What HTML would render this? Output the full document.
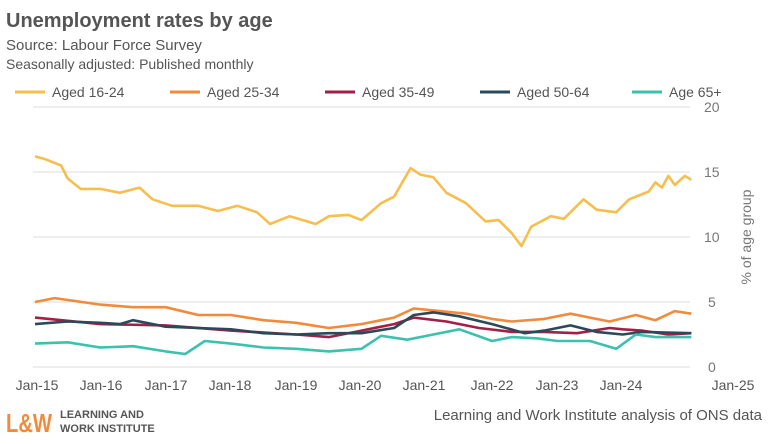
<!DOCTYPE html>
<html><head><meta charset="utf-8"><style>
body{margin:0;width:768px;height:439px;background:#fff;overflow:hidden;font-family:"Liberation Sans",sans-serif}
</style></head><body>
<svg id="s" width="768" height="439" xmlns="http://www.w3.org/2000/svg" font-family="Liberation Sans, sans-serif">
<text x="6" y="27" font-size="20" font-weight="bold" fill="#555">Unemployment rates by age</text>
<text x="6" y="50" font-size="15" fill="#555">Source: Labour Force Survey</text>
<text x="6" y="69" font-size="14" fill="#555">Seasonally adjusted: Published monthly</text>
<g font-size="14" fill="#555">
<line x1="15" y1="92" x2="45" y2="92" stroke="#F6BE4F" stroke-width="3"/><text x="52" y="97">Aged 16-24</text>
<line x1="170" y1="92" x2="200" y2="92" stroke="#F28A3C" stroke-width="3"/><text x="207" y="97">Aged 25-34</text>
<line x1="325" y1="92" x2="355" y2="92" stroke="#A51E45" stroke-width="3"/><text x="362" y="97">Aged 35-49</text>
<line x1="480" y1="92" x2="510" y2="92" stroke="#2A4A5A" stroke-width="3"/><text x="517" y="97">Aged 50-64</text>
<line x1="632" y1="92" x2="662" y2="92" stroke="#3CC1AE" stroke-width="3"/><text x="669" y="97">Age 65+</text>
</g>
<g stroke="#ddd" stroke-width="1">
<line x1="33" y1="107" x2="690" y2="107"/><line x1="33" y1="172" x2="690" y2="172"/>
<line x1="33" y1="237" x2="690" y2="237"/><line x1="33" y1="302" x2="690" y2="302"/>
<line x1="33" y1="367" x2="690" y2="367"/></g>
<g font-size="14" fill="#777">
<text x="704" y="112">20</text><text x="704" y="177">15</text><text x="704" y="242">10</text>
<text x="708" y="307">5</text><text x="708" y="372">0</text>
<text transform="translate(751,237) rotate(-90)" text-anchor="middle">% of age group</text>
</g>
<g font-size="14" fill="#555" text-anchor="middle" id="xl"></g>
<g id="lines" fill="none" stroke-width="2.6" stroke-linejoin="round"></g>
<text x="6" y="432" font-size="26" font-weight="bold" fill="#F28A3C" textLength="46" lengthAdjust="spacingAndGlyphs">L&amp;W</text>
<text x="60" y="418" font-size="11" font-weight="bold" fill="#555">LEARNING AND</text>
<text x="60" y="432" font-size="11" font-weight="bold" fill="#555">WORK INSTITUTE</text>
<text x="762" y="420" font-size="15" fill="#555" text-anchor="end">Learning and Work Institute analysis of ONS data</text>
</svg>
<script>
var S={
"#F6BE4F":[[2015,16.2],[2015.15,16],[2015.3,15.7],[2015.4,15.5],[2015.5,14.5],[2015.7,13.7],[2016,13.7],[2016.3,13.4],[2016.6,13.8],[2016.8,12.9],[2017.1,12.4],[2017.5,12.4],[2017.8,12.0],[2018.1,12.4],[2018.4,11.9],[2018.6,11.0],[2018.9,11.6],[2019.1,11.3],[2019.3,11.0],[2019.5,11.6],[2019.8,11.7],[2020,11.3],[2020.3,12.6],[2020.5,13.1],[2020.75,15.3],[2020.9,14.8],[2021.1,14.6],[2021.3,13.4],[2021.6,12.6],[2021.9,11.2],[2022.1,11.3],[2022.3,10.3],[2022.45,9.3],[2022.6,10.8],[2022.9,11.6],[2023.1,11.4],[2023.4,12.9],[2023.6,12.1],[2023.9,11.9],[2024.1,12.9],[2024.4,13.5],[2024.5,14.2],[2024.6,13.8],[2024.7,14.7],[2024.8,14.0],[2024.95,14.7],[2025.05,14.4]],
"#F28A3C":[[2015,5.0],[2015.3,5.3],[2016,4.8],[2016.5,4.6],[2017,4.6],[2017.5,4.0],[2018,4.0],[2018.5,3.6],[2019,3.4],[2019.5,3.0],[2020,3.3],[2020.5,3.8],[2020.8,4.5],[2021.2,4.3],[2021.6,4.1],[2022,3.7],[2022.3,3.5],[2022.8,3.7],[2023.2,4.1],[2023.5,3.8],[2023.8,3.5],[2024.2,4.0],[2024.5,3.6],[2024.8,4.3],[2025.05,4.1]],
"#A51E45":[[2015,3.8],[2016,3.3],[2017,3.2],[2018,2.8],[2019,2.5],[2019.5,2.3],[2020,2.8],[2020.5,3.3],[2020.8,3.8],[2021.3,3.5],[2021.8,3.0],[2022.3,2.7],[2022.8,2.7],[2023.3,2.6],[2023.8,3.0],[2024,2.9],[2024.3,2.8],[2024.7,2.5],[2025.05,2.6]],
"#2A4A5A":[[2015,3.3],[2015.5,3.5],[2016,3.4],[2016.3,3.3],[2016.5,3.6],[2017,3.1],[2017.5,3.0],[2018,2.9],[2018.5,2.6],[2019,2.5],[2019.5,2.6],[2020,2.6],[2020.5,3.0],[2020.8,4.0],[2021.1,4.2],[2021.5,3.9],[2022,3.3],[2022.5,2.6],[2022.8,2.8],[2023.2,3.2],[2023.6,2.7],[2024,2.5],[2024.3,2.7],[2025.05,2.6]],
"#3CC1AE":[[2015,1.8],[2015.5,1.9],[2016,1.5],[2016.5,1.6],[2017,1.2],[2017.3,1.0],[2017.6,2.0],[2018,1.8],[2018.5,1.5],[2019,1.4],[2019.5,1.2],[2020,1.4],[2020.3,2.4],[2020.7,2.1],[2021.1,2.5],[2021.5,2.9],[2022,2.0],[2022.3,2.3],[2022.7,2.2],[2023,2.0],[2023.5,2.0],[2023.9,1.4],[2024.2,2.5],[2024.5,2.3],[2025.05,2.3]]};
var g=document.getElementById('lines'),ns="http://www.w3.org/2000/svg";
for(var c in S){var p=document.createElementNS(ns,'polyline');
p.setAttribute('points',S[c].map(function(a){return (35+(a[0]-2015)*65.3).toFixed(1)+','+(367-a[1]*13).toFixed(1)}).join(' '));
p.setAttribute('stroke',c);g.appendChild(p);}
var xl=document.getElementById('xl'),xs=[37,101,166,230,296,360,424,492,557,621,733];
for(var i=0;i<11;i++){var t=document.createElementNS(ns,'text');t.setAttribute('x',xs[i]);t.setAttribute('y',390);
t.textContent='Jan-'+(15+i);xl.appendChild(t);}
</script>
</body></html>
